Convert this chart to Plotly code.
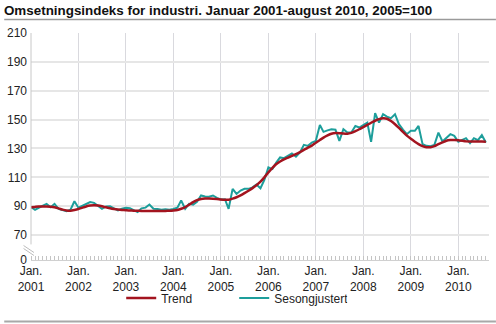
import plotly.graph_objects as go
import pandas as pd

# Monthly index values, January 2001 - August 2010 (2005=100)
months = pd.date_range("2001-01-01", "2010-08-01", freq="MS")

sesongjustert = [
    # 2001
    89.3, 87.5, 88.9, 90.0, 91.6, 89.3, 91.6, 88.2, 87.5, 86.6, 87.5, 93.4,
    # 2002
    88.9, 90.2, 91.1, 92.8, 92.3, 90.5, 88.2, 89.8, 90.0, 88.5, 87.0, 88.2,
    # 2003
    88.9, 88.5, 87.5, 85.9, 88.5, 89.0, 91.1, 88.2, 88.0, 87.5, 87.8, 87.5,
    # 2004
    88.0, 89.0, 93.9, 88.2, 91.6, 91.1, 93.0, 97.4, 96.7, 96.5, 97.4, 95.7,
    # 2005
    94.6, 94.8, 88.2, 102.0, 98.5, 100.8, 102.0, 102.0, 103.0, 105.0, 102.4, 108.2,
    # 2006
    116.9, 115.7, 120.0, 123.8, 123.3, 125.0, 126.5, 124.3, 127.2, 132.5, 131.8, 134.1,
    # 2007
    135.3, 146.3, 141.5, 142.5, 143.3, 143.0, 135.3, 143.3, 141.0, 141.0, 145.6, 144.5,
    # 2008
    146.0, 147.9, 134.6, 154.4, 147.9, 153.7, 152.0, 151.0, 153.7, 146.8, 143.0, 139.9,
    # 2009
    142.2, 142.2, 145.6, 133.0, 131.8, 131.5, 132.5, 141.0, 134.8, 137.0, 139.9, 138.7,
    # 2010
    134.6, 136.0, 137.1, 133.7, 137.1, 135.7, 139.2, 134.1,
]

trend = [
    # 2001
    89.3, 89.5, 89.7, 89.8, 89.8, 89.6, 89.2, 88.5, 87.6, 87.0, 86.8, 87.3,
    # 2002
    88.0, 89.0, 89.8, 90.4, 90.6, 90.4, 89.9, 89.2, 88.6, 88.1, 87.7, 87.4,
    # 2003
    87.2, 87.0, 86.9, 86.8, 86.7, 86.7, 86.6, 86.6, 86.6, 86.6, 86.7, 86.8,
    # 2004
    87.0, 87.4, 88.2, 89.4, 91.0, 92.8, 94.2, 95.0, 95.3, 95.3, 95.2, 95.0,
    # 2005
    94.6, 94.4, 94.5, 95.2, 96.2, 97.5, 99.0, 100.7, 102.5, 104.5, 107.0, 110.0,
    # 2006
    113.4, 116.5, 119.0, 121.0, 122.5, 123.7, 124.8, 126.0, 127.4, 129.0, 130.6, 132.0,
    # 2007
    134.0, 135.8, 137.5, 139.0, 140.2, 140.7, 140.6, 140.3, 140.2, 140.8, 142.0, 143.3,
    # 2008
    144.8, 146.3, 147.8, 149.2, 150.3, 150.9, 150.6, 149.0, 146.8, 144.3, 141.5, 138.9,
    # 2009
    136.7, 134.7, 133.0, 131.6, 130.9, 130.8, 131.6, 133.0, 134.2, 135.3, 135.8, 135.9,
    # 2010
    135.7, 135.3, 134.9, 134.8, 134.8, 134.8, 134.8, 134.7,
]

# Y axis: broken scale, the bottom tick stands for 0
axis_floor = 52.7
y_ticks = [axis_floor] + list(range(70, 211, 20))
y_labels = ["0"] + [str(v) for v in range(70, 211, 20)]

years = list(range(2001, 2011))
x_ticks = [f"{y}-01-01" for y in years]
x_labels = [f"Jan.<br>{y}" for y in years]

TEAL = "#1d9e9b"
RED = "#a3141f"
FONT = "Liberation Sans, Arial, sans-serif"

fig = go.Figure()
fig.add_trace(go.Scatter(
    x=months, y=sesongjustert, name="Sesongjustert", mode="lines",
    line=dict(color=TEAL, width=2), legendrank=2,
))
fig.add_trace(go.Scatter(
    x=months, y=trend, name="Trend", mode="lines",
    line=dict(color=RED, width=2.5, shape="spline", smoothing=0.6), legendrank=1,
))

# plot area geometry in pixels (for decorations outside the axes)
W, H = 496, 324
L, R, T, B = 27, 7, 33, 64
pw, ph = W - L - R, H - T - B


def px(x):
    return (x - L) / pw


def py(y):
    return (H - B - y) / ph


shapes = [
    # rule under the title
    dict(type="line", xref="paper", yref="paper", x0=px(0), x1=px(W),
         y0=py(19.5), y1=py(19.5), line=dict(color="#9a9a9a", width=1.5)),
    # rule at the bottom
    dict(type="line", xref="paper", yref="paper", x0=px(0), x1=px(W),
         y0=py(321.5), y1=py(321.5), line=dict(color="#a8a8a8", width=2)),
    # y axis line above the break
    dict(type="line", xref="paper", yref="y", x0=0, x1=0, y0=63.5, y1=210,
         line=dict(color="#c8c8c8", width=1)),
    # axis break marks
    dict(type="line", xref="paper", yref="paper", x0=px(19.5), x1=px(30),
         y0=py(245.5), y1=py(252.5), line=dict(color="#bdbdbd", width=1)),
    dict(type="line", xref="paper", yref="paper", x0=px(19.5), x1=px(30),
         y0=py(248.5), y1=py(255.5), line=dict(color="#bdbdbd", width=1)),
]

fig.update_layout(
    width=W, height=H,
    margin=dict(l=L, r=R, t=T, b=B),
    paper_bgcolor="white", plot_bgcolor="white",
    font=dict(family=FONT, size=12, color="#222222"),
    title=dict(
        text="<b>Omsetningsindeks for industri. Januar 2001-august 2010, 2005=100</b>",
        x=0.008, xanchor="left", xref="container",
        y=1 - 10.5 / H, yanchor="middle", yref="container",
        font=dict(family=FONT, size=13.4, color="#111111"),
    ),
    showlegend=True,
    legend=dict(
        orientation="h", x=px(118), xanchor="left", y=py(298), yanchor="middle",
        font=dict(family=FONT, size=12, color="#222222"),
        bgcolor="rgba(0,0,0,0)", itemwidth=30, tracegroupgap=0,
        entrywidth=68, entrywidthmode="pixels",
    ),
    shapes=shapes,
)

fig.update_xaxes(
    type="date",
    range=["2001-01-01", "2010-08-25"],
    tickvals=x_ticks, ticktext=x_labels,
    showgrid=True, gridcolor="#d9d9de", gridwidth=1,
    showline=True, linecolor="#d0d0d0", linewidth=1,
    ticks="", zeroline=False, ticklabelstandoff=0,
    minor=dict(dtick="M1", tick0="2001-01-01", ticks="inside", ticklen=4,
               tickcolor="#c4c4c4", tickwidth=1, showgrid=False),
    tickfont=dict(family=FONT, size=12, color="#222222"),
    fixedrange=True,
)
fig.update_yaxes(
    range=[axis_floor, 210],
    tickvals=y_ticks, ticktext=y_labels,
    showgrid=True, gridcolor="#e6e6e6", gridwidth=2,
    showline=False, zeroline=False, ticks="",
    ticklabelstandoff=3,
    tickfont=dict(family=FONT, size=12, color="#222222"),
    fixedrange=True,
)

fig.write_html("out.html")
